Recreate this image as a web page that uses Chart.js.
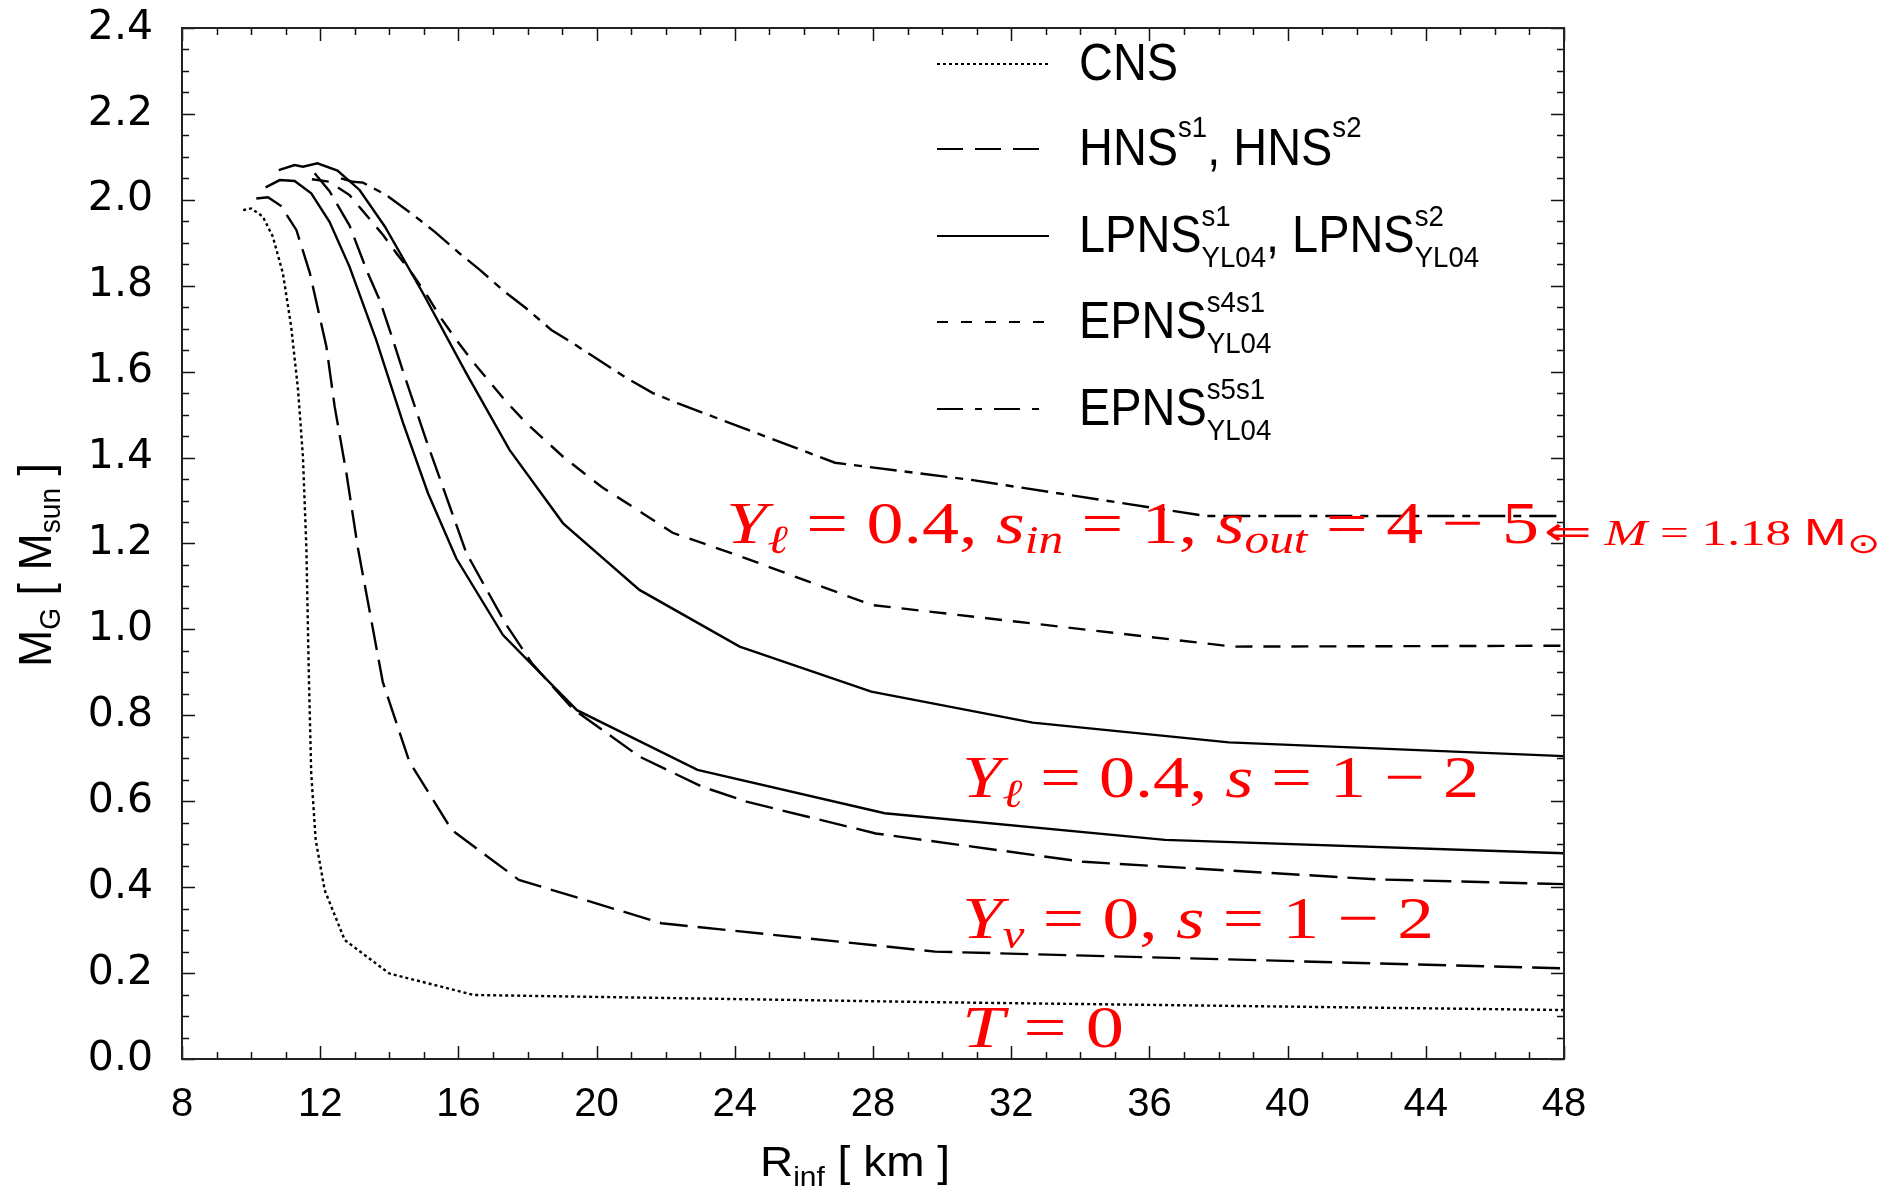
<!DOCTYPE html>
<html>
<head>
<meta charset="utf-8">
<script src="https://cdn.jsdelivr.net/npm/chart.js@4.4.1/dist/chart.umd.min.js"></script>
<style>
  html, body { margin: 0; padding: 0; background: #fff; }
  canvas { display: block; }
</style>
</head>
<body>
<canvas id="mrChart" width="1885" height="1189"></canvas>
<script>
// radius R_inf [km] and gravitational mass M_G [M_sun]
const cnsR  = [9.77, 10.0, 10.34, 10.63, 10.92, 11.16, 11.36, 11.5, 11.6, 11.67, 11.74, 11.87, 12.13, 12.71, 14.0, 16.45, 30.0, 48];
const cnsM  = [1.976, 1.98, 1.961, 1.914, 1.829, 1.705, 1.557, 1.402, 1.19, 0.898, 0.665, 0.51, 0.393, 0.277, 0.199, 0.149, 0.132, 0.114];

const hns1R = [10.15, 10.49, 10.86, 11.31, 11.7, 12.18, 12.42, 12.76, 13.09, 13.81, 14.58, 15.81, 17.75, 21.88, 29.8, 48];
const hns1M = [2.003, 2.006, 1.986, 1.93, 1.83, 1.658, 1.518, 1.363, 1.19, 0.878, 0.692, 0.533, 0.417, 0.316, 0.25, 0.211];

const hns2R = [11.84, 12.27, 12.85, 13.38, 13.72, 14.06, 14.4, 15.07, 16.23, 17.36, 18.13, 18.65, 19.3, 21.24, 23.05, 24.34, 28.08, 34.1, 42.63, 48];
const hns2M = [2.062, 2.02, 1.94, 1.829, 1.767, 1.685, 1.6, 1.44, 1.178, 1.014, 0.921, 0.874, 0.816, 0.704, 0.634, 0.599, 0.525, 0.459, 0.418, 0.407];

const lp1R  = [10.42, 10.83, 11.26, 11.74, 12.27, 12.85, 13.62, 14.4, 15.12, 15.94, 17.29, 19.43, 22.92, 28.34, 36.45, 48];
const lp1M  = [2.029, 2.046, 2.044, 2.015, 1.949, 1.844, 1.674, 1.48, 1.317, 1.165, 0.987, 0.812, 0.673, 0.572, 0.51, 0.479];

const lp2R  = [10.8, 11.26, 11.5, 11.92, 12.5, 13.14, 13.87, 14.98, 16.23, 17.48, 19.03, 21.24, 24.14, 27.95, 32.62, 38.3, 48];
const lp2M  = [2.069, 2.081, 2.077, 2.085, 2.068, 2.023, 1.938, 1.782, 1.596, 1.418, 1.247, 1.092, 0.96, 0.855, 0.783, 0.737, 0.705];

const ep4R  = [11.76, 12.27, 12.47, 12.85, 13.29, 13.82, 14.25, 14.69, 15.12, 15.5, 15.94, 16.42, 17.34, 17.97, 19.03, 20.14, 21.34, 22.2, 24.2, 27.95, 38.43, 48];
const ep4M  = [2.048, 2.042, 2.031, 2.011, 1.969, 1.918, 1.871, 1.825, 1.774, 1.724, 1.674, 1.623, 1.534, 1.48, 1.402, 1.332, 1.27, 1.225, 1.169, 1.057, 0.96, 0.962];

const ep5R  = [12.6, 12.95, 13.24, 13.91, 14.69, 15.31, 16.04, 16.62, 17.34, 17.97, 18.69, 19.32, 20.14, 20.81, 21.63, 22.36, 26.9, 30.84, 37.64, 48];
const ep5M  = [2.05, 2.042, 2.04, 2.011, 1.965, 1.926, 1.875, 1.837, 1.786, 1.747, 1.697, 1.666, 1.623, 1.588, 1.55, 1.526, 1.388, 1.348, 1.264, 1.264];

const xTicks = [8, 12, 16, 20, 24, 28, 32, 36, 40, 44, 48];
const yTicks = [0, 0.2, 0.4, 0.6, 0.8, 1.0, 1.2, 1.4, 1.6, 1.8, 2.0, 2.2, 2.4];

const pts = (xs, ys) => xs.map((x, i) => ({ x: x, y: ys[i] }));

const SANS = '"Liberation Sans", Arial, sans-serif';
const SERIF = '"Liberation Serif", "DejaVu Serif", serif';

const DOT = [3, 3];
const LONG = [28, 10];
const SHORT = [17, 11];
const DASHDOT = [27, 8, 8, 8];

function line(data, dash) {
    return {
        data: data,
        borderColor: '#000',
        borderWidth: 2.4,
        borderDash: dash,
        pointRadius: 0,
        tension: 0,
        fill: false
    };
}

// draws a row of text pieces (sub/superscripts), squeezed to a width if given
function drawRuns(ctx, runs, x, y, opt) {
    let total = 0;
    runs.forEach(r => {
        ctx.font = r.f;
        r.w = ctx.measureText(r.t).width;
        if (r.adv !== false) total += r.w;
    });
    const sx = opt.width ? opt.width / total : (opt.sx || 1);
    ctx.save();
    ctx.translate(x, y);
    if (opt.rot) ctx.rotate(opt.rot);
    ctx.scale(sx, 1);
    ctx.fillStyle = opt.color || '#000';
    ctx.textBaseline = 'alphabetic';
    ctx.textAlign = 'left';
    let cx = 0;
    runs.forEach(r => {
        ctx.font = r.f;
        ctx.fillText(r.t, cx, r.dy || 0);
        if (r.adv !== false) cx += r.w;
    });
    ctx.restore();
}

const frameTicks = {
    id: 'frameTicks',
    afterDatasetsDraw(chart) {
        const { ctx, chartArea: a, scales } = chart;
        ctx.save();
        ctx.strokeStyle = '#111';
        ctx.lineWidth = 1.5;
        ctx.setLineDash([]);
        ctx.beginPath();
        for (let v = 8; v <= 48; v += 1) {
            const px = Math.round(scales.x.getPixelForValue(v)) + 0.5;
            const len = (v % 4 === 0) ? 13 : 7;
            ctx.moveTo(px, a.bottom); ctx.lineTo(px, a.bottom - len);
            ctx.moveTo(px, a.top); ctx.lineTo(px, a.top + len);
        }
        for (let k = 0; k <= 48; k++) {
            const v = k * 0.05;
            const py = Math.round(scales.y.getPixelForValue(v)) + 0.5;
            const len = (k % 4 === 0) ? 13 : 7;
            ctx.moveTo(a.left, py); ctx.lineTo(a.left + len, py);
            ctx.moveTo(a.right, py); ctx.lineTo(a.right - len, py);
        }
        ctx.stroke();
        ctx.lineWidth = 2;
        ctx.strokeStyle = '#222';
        ctx.strokeRect(a.left, a.top, a.right - a.left, a.bottom - a.top);
        ctx.restore();
    },
    afterDraw(chart) {
        const ctx = chart.ctx;
        const big = '51px ' + SANS, small = '30px ' + SANS;

        // legend
        const entries = [
            { y: 80, dash: DOT, runs: [{ t: 'CNS', f: big }] },
            { y: 165, dash: [26, 12], runs: [
                { t: 'HNS', f: big }, { t: 's1', f: small, dy: -28 },
                { t: ', HNS', f: big }, { t: 's2', f: small, dy: -28 }] },
            { y: 252, dash: [], runs: [
                { t: 'LPNS', f: big }, { t: 's1', f: small, dy: -26, adv: false }, { t: 'YL04', f: small, dy: 15 },
                { t: ', LPNS', f: big }, { t: 's2', f: small, dy: -26, adv: false }, { t: 'YL04', f: small, dy: 15 }] },
            { y: 338, dash: [11, 13], runs: [
                { t: 'EPNS', f: big }, { t: 's4s1', f: small, dy: -26, adv: false }, { t: 'YL04', f: small, dy: 15 }] },
            { y: 425, dash: [26, 12, 7, 12], runs: [
                { t: 'EPNS', f: big }, { t: 's5s1', f: small, dy: -26, adv: false }, { t: 'YL04', f: small, dy: 15 }] }
        ];
        entries.forEach(e => {
            ctx.save();
            ctx.strokeStyle = '#000';
            ctx.lineWidth = 2.2;
            ctx.setLineDash(e.dash);
            ctx.beginPath();
            ctx.moveTo(937, e.y - 16);
            ctx.lineTo(1049, e.y - 16);
            ctx.stroke();
            ctx.restore();
            drawRuns(ctx, e.runs, 1079, e.y, { sx: 0.92 });
        });

        // axis titles
        const at = '43px ' + SANS, as = '28px ' + SANS;
        drawRuns(ctx, [{ t: 'R', f: at }, { t: 'inf', f: as, dy: 10 }, { t: ' [ km ]', f: at }],
            760, 1176, { width: 190 });
        const yt = '46px ' + SANS, ys = '29px ' + SANS;
        drawRuns(ctx, [{ t: 'M', f: yt }, { t: 'G', f: ys, dy: 9 }, { t: ' [ M', f: yt }, { t: 'sun', f: ys, dy: 9 }, { t: ' ]', f: yt }],
            51, 667, { width: 204, rot: -Math.PI / 2 });

        // red annotations
        const red = '#ff0000';
        const it = 'italic 60px ' + SERIF, rm = '60px ' + SERIF, sub = 'italic 40px ' + SERIF;
        drawRuns(ctx, [
            { t: 'Y', f: it }, { t: 'ℓ', f: sub, dy: 10 }, { t: ' = 0.4, ', f: rm },
            { t: 's', f: it }, { t: 'in', f: sub, dy: 10 }, { t: ' = 1, ', f: rm },
            { t: 's', f: it }, { t: 'out', f: sub, dy: 10 }, { t: ' = 4 − 5', f: rm }
        ], 726, 543, { width: 813, color: red });
        drawRuns(ctx, [
            { t: '⇐', f: '40px "DejaVu Sans"' }, { t: ' M', f: 'italic 36px ' + SERIF }, { t: ' = 1.18 ', f: '36px ' + SERIF },
            { t: 'M', f: '36px ' + SANS }, { t: '⊙', f: '28px "DejaVu Sans"', dy: 8 }
        ], 1544, 545, { width: 336, color: red });
        drawRuns(ctx, [
            { t: 'Y', f: it }, { t: 'ℓ', f: sub, dy: 10 }, { t: ' = 0.4, ', f: rm },
            { t: 's', f: it }, { t: ' = 1 − 2', f: rm }
        ], 962, 797, { width: 517, color: red });
        drawRuns(ctx, [
            { t: 'Y', f: it }, { t: 'ν', f: sub, dy: 10 }, { t: ' = 0, ', f: rm },
            { t: 's', f: it }, { t: ' = 1 − 2', f: rm }
        ], 962, 938, { width: 472, color: red });
        drawRuns(ctx, [{ t: 'T', f: it }, { t: ' = 0', f: rm }], 962, 1047, { width: 162, color: red });
    }
};

const ctx = document.getElementById('mrChart').getContext('2d');

new Chart(ctx, {
    type: 'line',
    data: {
        datasets: [
            line(pts(cnsR, cnsM), DOT),
            line(pts(hns1R, hns1M), LONG),
            line(pts(hns2R, hns2M), LONG),
            line(pts(lp1R, lp1M), []),
            line(pts(lp2R, lp2M), []),
            line(pts(ep4R, ep4M), SHORT),
            line(pts(ep5R, ep5M), DASHDOT)
        ]
    },
    options: {
        responsive: false,
        devicePixelRatio: 1,
        animation: false,
        parsing: false,
        layout: { padding: { left: 0, top: 28, right: 321, bottom: 0 } },
        plugins: {
            legend: { display: false },
            tooltip: { enabled: false }
        },
        scales: {
            x: {
                type: 'linear',
                min: 8,
                max: 48,
                afterFit: s => { s.height = 130; s.paddingLeft = 0; s.paddingRight = 0; },
                afterBuildTicks: s => { s.ticks = xTicks.map(v => ({ value: v })); },
                grid: { display: false },
                border: { display: false },
                ticks: {
                    padding: 14,
                    color: '#000',
                    maxRotation: 0,
                    font: { family: SANS, size: 40 }
                }
            },
            y: {
                type: 'linear',
                min: 0,
                max: 2.4,
                afterFit: s => { s.width = 182; s.paddingTop = 0; s.paddingBottom = 0; },
                afterBuildTicks: s => { s.ticks = yTicks.map(v => ({ value: v })); },
                grid: { display: false },
                border: { display: false },
                ticks: {
                    padding: 21,
                    color: '#000',
                    font: { family: '"DejaVu Sans", sans-serif', size: 41 },
                    callback: v => v.toFixed(1)
                }
            }
        }
    },
    plugins: [frameTicks]
});
</script>
</body>
</html>
